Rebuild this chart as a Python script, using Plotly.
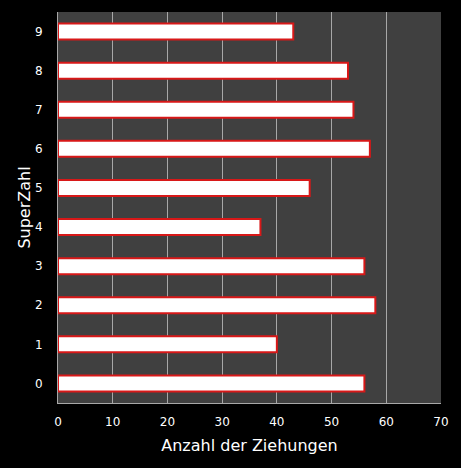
import plotly.graph_objects as go

superzahl = ['0', '1', '2', '3', '4', '5', '6', '7', '8', '9']
anzahl = [56, 40, 58, 56, 37, 46, 57, 54, 53, 43]
x_ticks = [0, 10, 20, 30, 40, 50, 60, 70]

fig = go.Figure()
fig.add_trace(go.Bar(
    x=anzahl,
    y=superzahl,
    orientation='h',
    width=0.41,
    marker=dict(color='white', line=dict(color='#d81818', width=2)),
))

fig.update_layout(
    width=461,
    height=468,
    paper_bgcolor='black',
    plot_bgcolor='#404040',
    font=dict(family='DejaVu Sans', color='white', size=12),
    margin=dict(l=58, r=20, t=12, b=65),
    showlegend=False,
    xaxis=dict(
        range=[0, 70],
        tickvals=x_ticks,
        showgrid=True,
        gridcolor='#a8a8a8',
        gridwidth=1,
        zeroline=False,
        showline=True,
        linecolor='#a8a8a8',
        ticks='',
        ticklabelstandoff=8,
        title=dict(text='Anzahl der Ziehungen', font=dict(size=16), standoff=11),
    ),
    yaxis=dict(
        type='category',
        showgrid=False,
        zeroline=False,
        showline=True,
        linecolor='#a8a8a8',
        ticks='',
        ticklabelstandoff=12,
        title=dict(text='SuperZahl', font=dict(size=16), standoff=0),
    ),
)

# page margin off so the figure fills the window
fig.write_html("out.html",
               config={'displayModeBar': False},
               post_script="document.body.style.margin='0';document.body.style.background='black';")
